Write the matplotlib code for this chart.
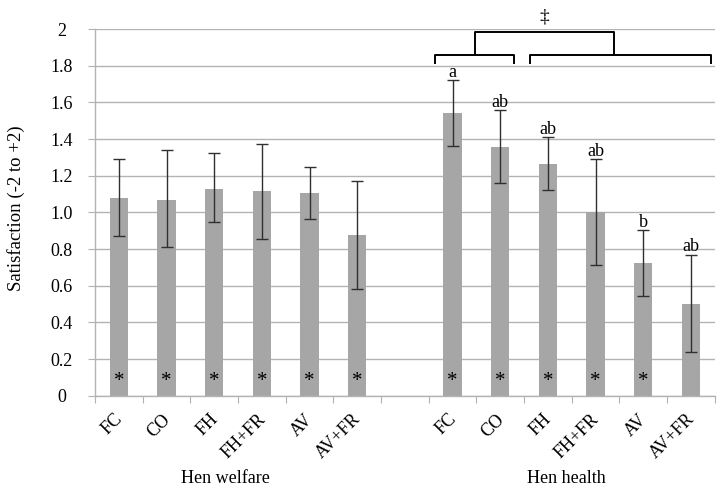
import matplotlib.pyplot as plt
import matplotlib.transforms as mtransforms
import numpy as np

plt.rcParams["font.family"] = ["Liberation Serif", "DejaVu Serif"]

# chart data
welfare_labels = ["FC", "CO", "FH", "FH+FR", "AV", "AV+FR"]
health_labels = ["FC", "CO", "FH", "FH+FR", "AV", "AV+FR"]
welfare_mean = [1.08, 1.07, 1.13, 1.115, 1.105, 0.875]
welfare_upper = [1.29, 1.34, 1.325, 1.375, 1.25, 1.17]
welfare_lower = [0.87, 0.81, 0.945, 0.855, 0.965, 0.58]
health_mean = [1.54, 1.355, 1.265, 1.0, 0.725, 0.50]
health_upper = [1.72, 1.56, 1.41, 1.29, 0.905, 0.77]
health_lower = [1.36, 1.16, 1.12, 0.715, 0.545, 0.24]
health_letters = ["a", "ab", "ab", "ab", "b", "ab"]
welfare_star = [True, True, True, True, True, True]
health_star = [True, True, True, True, True, False]
y_ticks = [0, 0.2, 0.4, 0.6, 0.8, 1.0, 1.2, 1.4, 1.6, 1.8, 2]
y_tick_labels = ["0", "0.2", "0.4", "0.6", "0.8", "1.0", "1.2", "1.4", "1.6", "1.8", "2"]

BAR_COLOR = "#a6a6a6"
GRID_COLOR = "#b3b3b3"
FONT_SIZE = 13

welfare_x = np.arange(6) + 0.5
health_x = np.arange(6) + 7.5
x_all = np.concatenate([welfare_x, health_x])
means = np.array(welfare_mean + health_mean)
upper = np.array(welfare_upper + health_upper)
lower = np.array(welfare_lower + health_lower)
stars = welfare_star + health_star

fig = plt.figure(figsize=(7.22, 4.92), dpi=100)
ax = fig.add_axes([0.1316, 0.1957, 0.8584, 0.7453])

ax.bar(x_all, means, width=0.385, color=BAR_COLOR, zorder=2)
ax.errorbar(
    x_all, means, yerr=[means - lower, upper - means],
    fmt="none", ecolor="#303030", elinewidth=1.0, capsize=4, capthick=1.0, zorder=3,
)

for x, has_star in zip(x_all, stars):
    if has_star:
        ax.text(x, 0.025, "*", ha="center", va="bottom", fontsize=15, zorder=4)

for x, top, letter in zip(health_x, health_upper, health_letters):
    ax.text(x, top - 0.005, letter, ha="center", va="bottom", fontsize=FONT_SIZE, zorder=4)

# significance brackets
lw = 1.4
left_a, left_b = 7.14, 8.78
right_a, right_b = 9.13, 12.93
y_leg, y_bar, y_top = 1.812, 1.858, 1.983
for a, b in [(left_a, left_b), (right_a, right_b)]:
    ax.plot([a, a, b, b], [y_leg, y_bar, y_bar, y_leg], color="black", lw=lw, zorder=4)
mid_l = (left_a + left_b) / 2
mid_r = 10.88
ax.plot([mid_l, mid_l, mid_r, mid_r], [y_bar, y_top, y_top, y_bar], color="black", lw=lw, zorder=4)
ax.text((mid_l + mid_r) / 2, 2.02, "\u2021", ha="center", va="bottom", fontsize=14, clip_on=False)

ax.set_xlim(0, 13)
ax.set_ylim(0, 2)
ax.set_yticks(y_ticks)
ax.set_yticklabels(y_tick_labels, fontsize=FONT_SIZE, ha="center")
ax.yaxis.grid(True, color=GRID_COLOR, lw=1.0, zorder=0)
ax.set_axisbelow(True)

ax.set_xticks(np.arange(0, 14))
ax.set_xticklabels([])
ax.tick_params(axis="x", length=5, color=GRID_COLOR, direction="out")
ax.tick_params(axis="y", length=5, color=GRID_COLOR, direction="out", pad=19)

# category labels, rotated, hung under each bar
label_shift = mtransforms.ScaledTranslation(-0.05, -0.15, fig.dpi_scale_trans)
for x, label in zip(x_all, welfare_labels + health_labels):
    ax.text(x, 0, label, transform=ax.get_xaxis_transform() + label_shift,
            rotation=45, rotation_mode="anchor", ha="right", va="top", fontsize=FONT_SIZE)

for side in ["top", "right"]:
    ax.spines[side].set_visible(False)
for side in ["left", "bottom"]:
    ax.spines[side].set_color(GRID_COLOR)
    ax.spines[side].set_linewidth(1.0)

ax.text(2.73, -0.454, "Hen welfare", ha="center", va="center", fontsize=FONT_SIZE)
ax.text(9.89, -0.454, "Hen health", ha="center", va="center", fontsize=FONT_SIZE)
ax.set_ylabel("Satisfaction (-2 to +2)", fontsize=13.5, va="center")
ax.yaxis.set_label_coords(-0.127, 0.512)

fig.savefig("out.png", dpi=100)
